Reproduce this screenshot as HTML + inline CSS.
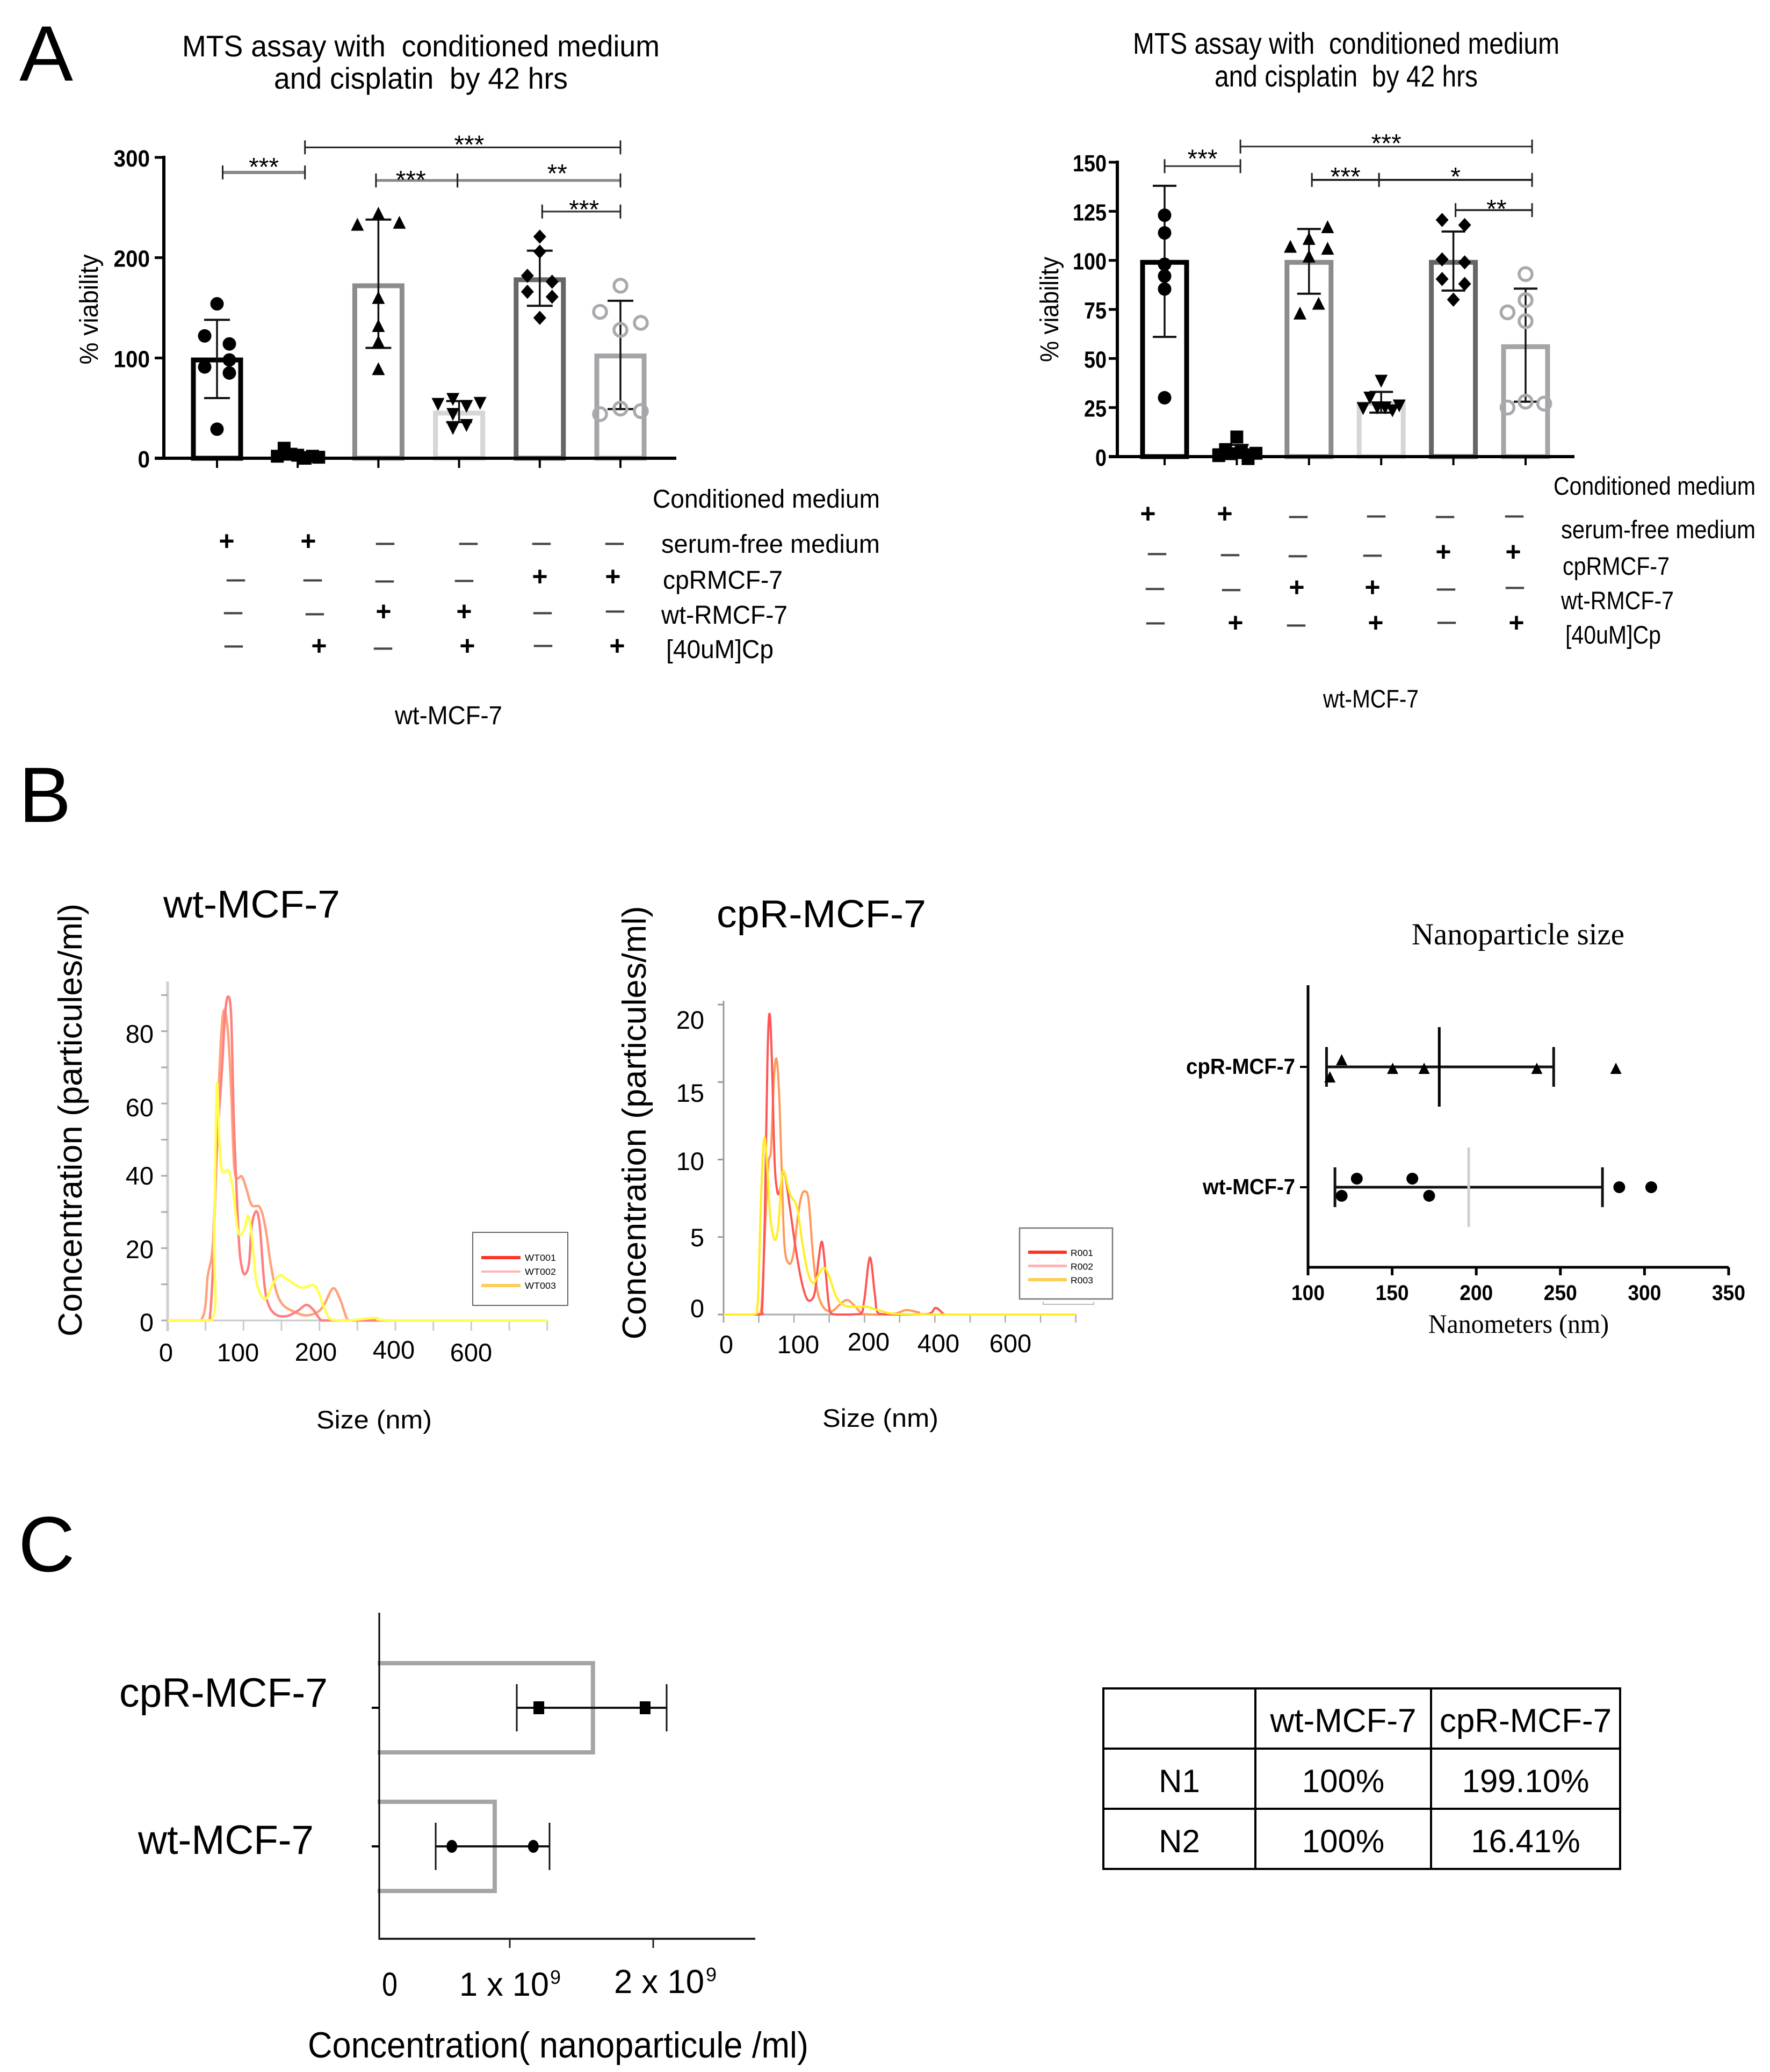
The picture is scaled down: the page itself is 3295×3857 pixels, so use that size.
<!DOCTYPE html>
<html lang="en">
<head>
<meta charset="utf-8">
<title>MCF-7 conditioned medium, nanoparticle size and concentration</title>
<style>
html,body{margin:0;padding:0;background:#fff;width:3295px;height:3857px;overflow:hidden}
#stage{position:absolute;left:0;top:0}
svg text{font-family:"Liberation Sans",sans-serif;fill:#000;white-space:pre}
.p{font-weight:bold;font-size:50px;text-anchor:middle}
.m{font-size:62px;text-anchor:middle;fill:#444!important}
.s{font-family:"Liberation Serif",serif!important}
table{position:absolute;left:2052px;top:3141px;width:966px;border-collapse:collapse;table-layout:fixed;font-family:"Liberation Sans",sans-serif;font-size:60px;color:#000}
td{border:4px solid #000;text-align:center;vertical-align:middle;padding:9px 0 0 0;height:99px;line-height:1}
tr.h td{font-size:62px}
</style>
</head>
<body>
<svg id="stage" width="3295" height="3857" viewBox="0 0 3295 3857" xmlns="http://www.w3.org/2000/svg">
  <text x="36" y="150" font-size="146" textLength="100" lengthAdjust="spacingAndGlyphs">A</text>
  <text x="35" y="1530" font-size="146">B</text>
  <text x="34" y="2925" font-size="146">C</text>

  <g id="a1">
    <text x="339" y="105" font-size="56" textLength="889" lengthAdjust="spacingAndGlyphs">MTS assay with  conditioned medium</text>
    <text x="510" y="165" font-size="56" textLength="547" lengthAdjust="spacingAndGlyphs">and cisplatin  by 42 hrs</text>
    <text transform="translate(182 576) rotate(-90)" text-anchor="middle" font-size="48" textLength="205" lengthAdjust="spacingAndGlyphs">% viability</text>
    <text x="1215" y="945" font-size="48" textLength="423" lengthAdjust="spacingAndGlyphs">Conditioned medium</text>
    <text x="1231" y="1029" font-size="48" textLength="407" lengthAdjust="spacingAndGlyphs">serum-free medium</text>
    <text x="1234" y="1096" font-size="48" textLength="223" lengthAdjust="spacingAndGlyphs">cpRMCF-7</text>
    <text x="1231" y="1161" font-size="48" textLength="235" lengthAdjust="spacingAndGlyphs">wt-RMCF-7</text>
    <text x="1240" y="1225" font-size="48" textLength="200" lengthAdjust="spacingAndGlyphs">[40uM]Cp</text>
    <text x="735" y="1348" font-size="48" textLength="200" lengthAdjust="spacingAndGlyphs">wt-MCF-7</text>
    <g>
      <text class="p" x="422" y="1024">+</text>
      <text class="p" x="574" y="1024">+</text>
      <text class="m" x="717" y="1028">–</text>
      <text class="m" x="872" y="1028">–</text>
      <text class="m" x="1008" y="1028">–</text>
      <text class="m" x="1144" y="1028">–</text>
      <text class="m" x="439" y="1096">–</text>
      <text class="m" x="582" y="1096">–</text>
      <text class="m" x="716" y="1098">–</text>
      <text class="m" x="864" y="1097">–</text>
      <text class="p" x="1005" y="1090">+</text>
      <text class="p" x="1141" y="1090">+</text>
      <text class="m" x="434" y="1157">–</text>
      <text class="m" x="586" y="1159">–</text>
      <text class="p" x="714" y="1155">+</text>
      <text class="p" x="864" y="1155">+</text>
      <text class="m" x="1010" y="1157">–</text>
      <text class="m" x="1145" y="1154">–</text>
      <text class="m" x="435" y="1219">–</text>
      <text class="p" x="594" y="1219">+</text>
      <text class="m" x="713" y="1223">–</text>
      <text class="p" x="870" y="1219">+</text>
      <text class="m" x="1011" y="1218">–</text>
      <text class="p" x="1149" y="1219">+</text>
    </g>
  </g>

  <g id="a2">
    <text x="2109" y="100" font-size="56" textLength="794" lengthAdjust="spacingAndGlyphs">MTS assay with  conditioned medium</text>
    <text x="2261" y="161" font-size="56" textLength="490" lengthAdjust="spacingAndGlyphs">and cisplatin  by 42 hrs</text>
    <text transform="translate(1970 576) rotate(-90)" text-anchor="middle" font-size="48" textLength="196" lengthAdjust="spacingAndGlyphs">% viability</text>
    <text x="2892" y="921" font-size="47" textLength="376" lengthAdjust="spacingAndGlyphs">Conditioned medium</text>
    <text x="2906" y="1002" font-size="47" textLength="362" lengthAdjust="spacingAndGlyphs">serum-free medium</text>
    <text x="2909" y="1070" font-size="47" textLength="199" lengthAdjust="spacingAndGlyphs">cpRMCF-7</text>
    <text x="2906" y="1134" font-size="47" textLength="210" lengthAdjust="spacingAndGlyphs">wt-RMCF-7</text>
    <text x="2914" y="1198" font-size="47" textLength="178" lengthAdjust="spacingAndGlyphs">[40uM]Cp</text>
    <text x="2463" y="1317" font-size="47" textLength="178" lengthAdjust="spacingAndGlyphs">wt-MCF-7</text>
    <g>
      <text class="p" x="2137" y="973">+</text>
      <text class="p" x="2280" y="973">+</text>
      <text class="m" x="2417" y="978">–</text>
      <text class="m" x="2562" y="977">–</text>
      <text class="m" x="2690" y="978">–</text>
      <text class="m" x="2819" y="977">–</text>
      <text class="m" x="2154" y="1047">–</text>
      <text class="m" x="2290" y="1049">–</text>
      <text class="m" x="2416" y="1051">–</text>
      <text class="m" x="2555" y="1050">–</text>
      <text class="p" x="2687" y="1044">+</text>
      <text class="p" x="2817" y="1044">+</text>
      <text class="m" x="2150" y="1112">–</text>
      <text class="m" x="2292" y="1114">–</text>
      <text class="p" x="2414" y="1110">+</text>
      <text class="p" x="2555" y="1110">+</text>
      <text class="m" x="2692" y="1113">–</text>
      <text class="m" x="2820" y="1110">–</text>
      <text class="m" x="2151" y="1176">–</text>
      <text class="p" x="2300" y="1176">+</text>
      <text class="m" x="2413" y="1180">–</text>
      <text class="p" x="2561" y="1176">+</text>
      <text class="m" x="2693" y="1175">–</text>
      <text class="p" x="2823" y="1176">+</text>
    </g>
  </g>

  <g id="b1">
    <text x="304" y="1708" font-size="72" textLength="329" lengthAdjust="spacingAndGlyphs">wt-MCF-7</text>
    <text transform="translate(152 2085) rotate(-90)" text-anchor="middle" font-size="62" textLength="806" lengthAdjust="spacingAndGlyphs">Concentration (particules/ml)</text>
    <g font-size="47" text-anchor="end">
      <text x="286" y="1941">80</text>
      <text x="286" y="2078">60</text>
      <text x="286" y="2205">40</text>
      <text x="286" y="2342">20</text>
      <text x="286" y="2478">0</text>
    </g>
    <g font-size="47" text-anchor="middle">
      <text x="309" y="2534">0</text>
      <text x="443" y="2534">100</text>
      <text x="588" y="2533">200</text>
      <text x="733" y="2529">400</text>
      <text x="877" y="2534">600</text>
    </g>
    <text x="589" y="2659" font-size="47" textLength="215" lengthAdjust="spacingAndGlyphs">Size (nm)</text>
  </g>

  <g id="b2">
    <text x="1334" y="1726" font-size="72" textLength="390" lengthAdjust="spacingAndGlyphs">cpR-MCF-7</text>
    <text transform="translate(1202 2090) rotate(-90)" text-anchor="middle" font-size="62" textLength="807" lengthAdjust="spacingAndGlyphs">Concentration (particules/ml)</text>
    <g font-size="47" text-anchor="end">
      <text x="1311" y="1915">20</text>
      <text x="1311" y="2051">15</text>
      <text x="1311" y="2178">10</text>
      <text x="1311" y="2320">5</text>
      <text x="1311" y="2452">0</text>
    </g>
    <g font-size="47" text-anchor="middle">
      <text x="1352" y="2519">0</text>
      <text x="1486" y="2519">100</text>
      <text x="1617" y="2514">200</text>
      <text x="1747" y="2517">400</text>
      <text x="1881" y="2517">600</text>
    </g>
    <text x="1531" y="2656" font-size="47" textLength="216" lengthAdjust="spacingAndGlyphs">Size (nm)</text>
  </g>

  <g id="nano">
    <text class="s" x="2628" y="1758" font-size="57" textLength="396" lengthAdjust="spacingAndGlyphs">Nanoparticle size</text>
    <text class="s" x="2659" y="2481" font-size="50" textLength="336" lengthAdjust="spacingAndGlyphs">Nanometers (nm)</text>
  </g>

  <g id="conc">
    <text x="711" y="3715" font-size="62" textLength="29" lengthAdjust="spacingAndGlyphs">0</text>
    <text x="855" y="3715" font-size="62" textLength="167" lengthAdjust="spacingAndGlyphs">1 x 10</text>
    <text x="1024" y="3693" font-size="36">9</text>
    <text x="1143" y="3710" font-size="62" textLength="168" lengthAdjust="spacingAndGlyphs">2 x 10</text>
    <text x="1314" y="3688" font-size="36">9</text>
    <text x="573" y="3830" font-size="68" textLength="932" lengthAdjust="spacingAndGlyphs">Concentration( nanoparticule /ml)</text>
  </g>
</svg>

<table>
  <colgroup><col style="width:283px"><col style="width:327px"><col style="width:352px"></colgroup>
  <tr class="h">
    <td></td>
    <td>wt-MCF-7</td>
    <td>cpR-MCF-7</td>
  </tr>
  <tr>
    <td>N1</td>
    <td>100%</td>
    <td>199.10%</td>
  </tr>
  <tr>
    <td>N2</td>
    <td>100%</td>
    <td>16.41%</td>
  </tr>
</table>

<script>
/* ---------- Panel A left: values ---------- */
const a1Ticks = [0, 100, 200, 300];
const a1Means = [98, 2, 172, 45, 178, 102];
const a1ErrLow = [60, 0, 110, 36, 152, 49];
const a1ErrHigh = [138, 6, 238, 57, 207, 157];
const a1Points = [
  [154, 122, 114, 98, 91, 85, 29],
  [2, 10, 4, 3, 0, 2, 1],
  [244, 233, 235, 160, 132, 116, 89],
  [54, 59, 52, 55, 44, 33, 30],
  [221, 206, 182, 176, 166, 161, 140],
  [172, 146, 135, 128, 49.5, 47, 44]
];
const a1Lanes = [
  [0, -1, 1, 1, -1, 1, 0],
  [-1.65, -1.1, -0.55, 0, 0.6, 1.2, 1.7],
  [0, -1.7, 1.7, 0, 0, 0, 0],
  [-1.7, -0.5, 0.6, 1.7, -0.5, 0.6, -0.5],
  [0, 0, -1, 1, -1, 1, 0],
  [0, -1.65, 1.65, 0, 0, 1.65, -1.65]
];
const a1BracketStart = [0.07, 1.09, 1.97, 2.98, 4.03];
const a1BracketEnd = [1.09, 5, 2.98, 5, 5];
const a1BracketLevel = [285, 310, 277, 277, 246];
const a1BracketStars = ["***", "***", "***", "**", "***"];

/* ---------- Panel A right: values ---------- */
const a2Ticks = [0, 25, 50, 75, 100, 125, 150];
const a2Means = [99, 3, 99, 27, 99, 56];
const a2ErrLow = [61, 0, 83, 22.4, 84.6, 28];
const a2ErrHigh = [138, 6, 116, 33, 114.7, 85.6];
const a2Points = [
  [123, 114, 98, 92, 85.4, 30],
  [10, 3.6, 2.5, 0.5, 1.7, -1, 1.5],
  [117, 111, 107, 106, 102, 78, 73],
  [38.6, 30, 24.6, 26, 25, 25, 23.5],
  [120.6, 118, 100.5, 99, 90.5, 88, 80],
  [93, 79.7, 73.5, 69, 28, 27, 25]
];
const a2Lanes = [
  [0, 0, 0, 0, 0, 0],
  [0, -1, 0.4, -1.6, 1.7, 1, -0.6],
  [1.65, 0, -1.65, 1.65, 0, 0.85, -0.8],
  [0, -1, -1.6, 1.6, 0.35, -0.35, 1],
  [-1, 1, -1, 1, -1, 1, 0],
  [0, 0, -1.6, 0, 0, 1.65, -1.6]
];
const a2BracketStart = [0, 1.05, 2.04, 2.97, 4.03];
const a2BracketEnd = [1.05, 5.09, 2.97, 5.09, 5.09];
const a2BracketLevel = [148, 158, 141, 141, 125.6];
const a2BracketStars = ["***", "***", "***", "*", "**"];

const barCategories = ["conditioned", "conditioned-cp", "wt-r", "wt-r-cp", "cp-r", "cp-r-cp"];
const pointKinds = ["circle", "square", "triangle", "triangle-down", "diamond", "ring"];
const barColors = ["#000000", "#000000", "#8c8c8c", "#d6d6d6", "#666666", "#a5a5a9"];

/* ---------- Panel B left: size (nm) and concentration ---------- */
const b1RedSize = [0, 50.7, 55.4, 60, 64.8, 71.9, 75.5, 79.5, 83.7, 87, 90.8, 94.3, 97.9, 102, 107.3, 110.8, 116.7, 121.4, 127.3, 133, 142.7, 156.8, 171, 182.7, 192, 201.6, 211, 298];
const b1RedConc = [0, 0, 0.2, 15.9, 46.6, 70.5, 84.2, 89.6, 84.2, 56.9, 36.4, 20.7, 14.5, 12.8, 15.9, 26.1, 30.2, 26.1, 10.4, 4.3, 1.6, 1.2, 2.6, 4.3, 2.9, 0.2, 0, 0];
const b1OrangeSize = [0, 43.6, 53, 60, 67.2, 73, 79, 83.7, 88.4, 97.9, 103.8, 110.8, 121.4, 128.5, 135.6, 142.7, 152, 168.6, 182.7, 197, 206, 218, 227.5, 237, 246, 298];
const b1OrangeConc = [0, 0, 12.5, 22.7, 63.7, 84.8, 80.8, 63.7, 41.2, 39.8, 36.4, 31.9, 31.3, 26.1, 15.9, 8.4, 4.3, 2.25, 1.4, 2.25, 4.3, 8.9, 5.7, 0.2, 0, 0];
const b1YellowSize = [0, 57.8, 61.3, 64.8, 68.4, 71.9, 80, 86, 92, 96.7, 101.4, 106, 110.8, 116.7, 125, 130.9, 138, 147.4, 156.8, 175.7, 192, 199, 206, 215.8, 239, 274.7, 298, 500];
const b1YellowConc = [0, 0, 22.7, 65, 48.7, 41.2, 41.5, 36.4, 25.5, 23.75, 25.5, 28.9, 23.4, 11.1, 6.35, 6.35, 9.8, 12.5, 11.5, 9.1, 9.8, 7.7, 3.6, 0.2, 0, 0.7, 0, 0];
const b1YMinorTicks = [0, 10, 20, 30, 40, 50, 60, 70, 80, 90];
const b1XTicks = [0, 50, 100, 150, 200, 250, 300, 350, 400, 450, 500];
const b1Legend = ["WT001", "WT002", "WT003"];

/* ---------- Panel B middle: size (nm) and concentration ---------- */
const b2RedSize = [0, 50.8, 54.7, 58.5, 62.3, 65.3, 68.6, 72.4, 76.3, 80, 85.9, 94, 101.7, 109.3, 116.9, 123.3, 129.6, 134.7, 139.8, 144.9, 151.3, 162.7, 193.2, 199.5, 207.7, 214.8, 219.9, 244, 289.8, 301.2, 312.7, 320.3, 500];
const b2RedConc = [0, 0, 0.29, 6.35, 16.45, 19.41, 16.45, 9.96, 7.94, 8, 9.24, 6.93, 4.47, 2.45, 1.15, 0.9, 1.44, 3.46, 4.69, 2.74, 0.14, 0, 0.03, 0.87, 3.68, 1.3, 0.07, 0, 0.03, 0.43, 0.03, 0, 0];
const b2OrangeSize = [0, 45.8, 53.4, 59.7, 63.6, 67.4, 71.2, 75, 78.8, 82.6, 86.4, 92.8, 99.1, 105.5, 110.6, 115.7, 120.7, 127.1, 133.5, 142.4, 153.8, 165.2, 175.4, 185.6, 198.3, 218.6, 244, 259.3, 277, 294.9, 500];
const b2OrangeConc = [0, 0, 0.29, 6.35, 9.74, 10.68, 15, 16.52, 14.29, 9.24, 4.47, 3.29, 3.9, 6.35, 7.65, 7.94, 7.36, 3.75, 1.44, 0.43, 0.22, 0.65, 0.94, 0.58, 0.03, 0, 0.07, 0.29, 0.14, 0, 0];
const b2YellowSize = [0, 41.9, 48.3, 53.4, 57.7, 62.3, 66.1, 72.4, 77.5, 81.9, 85.9, 94, 104.2, 111.8, 119.5, 127.1, 133.5, 142.4, 150, 160, 171.6, 188.1, 203.4, 221.2, 249.1, 345.7, 500];
const b2YellowConc = [0, 0, 0.58, 7.79, 11.4, 9.24, 6.35, 4.83, 5.63, 8.51, 9.24, 7.79, 6.93, 4.62, 2.74, 2.02, 2.45, 3.03, 2.45, 1.15, 0.58, 0.5, 0.5, 0.26, 0.03, 0, 0];
const b2YTicks = [0, 5, 10, 15, 20];
const b2XTicks = [0, 50, 100, 150, 200, 250, 300, 350, 400, 450, 500];
const b2Legend = ["R001", "R002", "R003"];

/* ---------- Nanoparticle size ---------- */
const nanoTicks = [100, 150, 200, 250, 300, 350];
const nanoCategories = ["cpR-MCF-7", "wt-MCF-7"];
const nanoPoints = [
  [113, 120, 150.3, 169, 236, 283],
  [120, 129, 162, 172, 285, 304]
];
const nanoLanes = [
  [1.2, -0.8, 0.2, 0.2, 0.2, 0.2],
  [1, -1, -1, 1, 0, 0]
];
const nanoMedian = [178, 195.5];
const nanoLow = [111, 116];
const nanoHigh = [246, 275];

/* ---------- Concentration (x 10^9 particles/ml) ---------- */
const concTicks = [0, 0.953, 2];
const concCategories = ["cpR-MCF-7", "wt-MCF-7"];
const concMeans = [1.56, 0.843];
const concLow = [1.004, 0.412];
const concHigh = [2.098, 1.243];
const concPoints = [
  [1.165, 1.941],
  [0.53, 1.125]
];

/* ---------- Helpers ---------- */
const SVGNS = "http://www.w3.org/2000/svg";
function add(tag, parent, name, attrs) {
  const el = document.createElementNS(SVGNS, tag);
  
  
  for (const key in attrs) el.setAttribute(key, attrs[key]);
  parent.appendChild(el);
  return el;
}
function line(parent, name, x1, y1, x2, y2, stroke, width) {
  return add('line', parent, name, {x1: x1, y1: y1, x2: x2, y2: y2, stroke: stroke, 'stroke-width': width});
}
function label(parent, name, str, x, y, size, attrs) {
  const el = add('text', parent, name, Object.assign({x: x, y: y, 'font-size': size}, attrs || {}));
  el.textContent = str;
  return el;
}
function marker(parent, kind, name, cx, cy, s) {
  if (kind === 'circle') return add('circle', parent, name, {cx: cx, cy: cy, r: s + 0.5});
  if (kind === 'ring') return add('circle', parent, name, {cx: cx, cy: cy, r: s, fill: 'none', stroke: '#a9a9ad', 'stroke-width': 5.5});
  if (kind === 'square') return add('rect', parent, name, {x: cx - s, y: cy - s, width: 2 * s, height: 2 * s});
  let pts;
  if (kind === 'triangle') pts = [[cx, cy - s * 1.05], [cx + s, cy + s * 0.95], [cx - s, cy + s * 0.95]];
  if (kind === 'triangle-down') pts = [[cx, cy + s * 1.05], [cx + s, cy - s * 0.95], [cx - s, cy - s * 0.95]];
  if (kind === 'diamond') pts = [[cx, cy - s * 1.1], [cx + s, cy], [cx, cy + s * 1.1], [cx - s, cy]];
  return add('polygon', parent, name, {points: pts.map(p => p.join(',')).join(' ')});
}
function smoothPath(xs, ys, baseY) {
  const p = xs.map((x, i) => [x, ys[i]]);
  let d = 'M' + p[0][0].toFixed(1) + ' ' + p[0][1].toFixed(1);
  for (let i = 0; i < p.length - 1; i++) {
    const a = p[Math.max(i - 1, 0)], b = p[i], c = p[i + 1], e = p[Math.min(i + 2, p.length - 1)];
    const k = 1 / 6;
    const y1 = Math.min(b[1] + (c[1] - a[1]) * k, baseY);
    const y2 = Math.min(c[1] - (e[1] - b[1]) * k, baseY);
    d += ' C' + (b[0] + (c[0] - a[0]) * k).toFixed(1) + ' ' + y1.toFixed(1) + ' ' +
      (c[0] - (e[0] - b[0]) * k).toFixed(1) + ' ' + y2.toFixed(1) + ' ' +
      c[0].toFixed(1) + ' ' + c[1].toFixed(1);
  }
  return d;
}

/* ---------- Bar charts ---------- */
function barChart(host, prefix, o) {
  const bars = add('g', host, prefix + '-bars', {});
  o.means.forEach((v, i) => {
    const cx = o.x(i);
    add('rect', bars, prefix + '-bar-' + barCategories[i], {
      x: cx - o.barW / 2, y: o.y(v), width: o.barW, height: Math.max(o.y(0) - o.y(v), 0),
      fill: 'none', stroke: barColors[i], 'stroke-width': 9
    });
  });
  const errs = add('g', host, prefix + '-error-bars', {});
  o.means.forEach((v, i) => {
    const cx = o.x(i);
    line(errs, prefix + '-error-stem', cx, o.y(o.low[i]), cx, o.y(o.high[i]), '#111', 3.5);
    line(errs, prefix + '-error-cap-high', cx - o.cap, o.y(o.high[i]), cx + o.cap, o.y(o.high[i]), '#111', 4);
    line(errs, prefix + '-error-cap-low', cx - o.cap, o.y(o.low[i]), cx + o.cap, o.y(o.low[i]), '#111', 4);
  });
  const pts = add('g', host, prefix + '-points', {});
  o.points.forEach((group, i) => {
    group.forEach((v, j) => {
      marker(pts, pointKinds[i], prefix + '-point-' + barCategories[i], o.x(i) + o.lanes[i][j] * o.laneW, o.y(v), 12);
    });
  });
  const axes = add('g', host, prefix + '-axes', {});
  line(axes, prefix + '-y-axis', o.x0, o.y(o.ticks[o.ticks.length - 1]) - 3, o.x0, o.y(0) + 3, '#000', 6);
  line(axes, prefix + '-x-axis', o.tickLeft, o.y(0), o.xEnd, o.y(0), '#000', 6);
  o.ticks.forEach(t => {
    line(axes, prefix + '-y-tick', o.tickLeft, o.y(t), o.x0, o.y(t), '#000', 5);
    label(axes, prefix + '-y-tick-label', String(t), o.labelRight, o.y(t) + 17, 44, {
      'font-weight': 'bold', 'text-anchor': 'end', textLength: String(t).length * o.digitW, lengthAdjust: 'spacingAndGlyphs'
    });
  });
  o.means.forEach((v, i) => {
    line(axes, prefix + '-x-tick', o.x(i), o.y(0), o.x(i), o.y(0) + o.tickDown, '#000', 4);
  });
  const br = add('g', host, prefix + '-significance-brackets', {});
  o.bStart.forEach((s, i) => {
    const x1 = o.x(s), x2 = o.x(o.bEnd[i]), y = o.y(o.bLevel[i]);
    line(br, prefix + '-bracket-bar', x1, y, x2, y, o.bColor[i], o.bWidth[i]);
    line(br, prefix + '-bracket-end', x1, y - 13, x1, y + 13, '#222', 3);
    line(br, prefix + '-bracket-end', x2, y - 13, x2, y + 13, '#222', 3);
    label(br, prefix + '-significance-stars', o.bStars[i], (x1 + x2) / 2 + o.bShift[i], y + o.bLift[i], 48, {
      'text-anchor': 'middle'
    });
  });
}
const a1Y = v => 853 - v * (560 / 300);
const a1X = i => 404 + 150.2 * i;
barChart(document.getElementById('a1'), 'left', {
  x: a1X, y: a1Y, x0: 305, xEnd: 1259, tickLeft: 288, labelRight: 279, tickDown: 18, barW: 88, cap: 24, laneW: 23, digitW: 22.5,
  ticks: a1Ticks, means: a1Means, low: a1ErrLow, high: a1ErrHigh, points: a1Points, lanes: a1Lanes,
  bStart: a1BracketStart, bEnd: a1BracketEnd, bLevel: a1BracketLevel, bStars: a1BracketStars,
  bColor: ['#888', '#222', '#888', '#888', '#444'], bWidth: [6, 3, 5, 5, 3.5],
  bShift: [0, 12, -11, 34, 5], bLift: [6, 11, 15, 3, 12]
});
const a2Y = v => 850 - v * (548 / 150);
const a2X = i => 2168 + 134.4 * i;
barChart(document.getElementById('a2'), 'right', {
  x: a2X, y: a2Y, x0: 2080, xEnd: 2931, tickLeft: 2064, labelRight: 2060, tickDown: 16, barW: 82, cap: 22, laneW: 21, digitW: 21,
  ticks: a2Ticks, means: a2Means, low: a2ErrLow, high: a2ErrHigh, points: a2Points, lanes: a2Lanes,
  bStart: a2BracketStart, bEnd: a2BracketEnd, bLevel: a2BracketLevel, bStars: a2BracketStars,
  bColor: ['#333', '#333', '#111', '#111', '#222'], bWidth: [3, 3, 3.5, 3.5, 3.5],
  bShift: [0, 0, 0, 0, 5], bLift: [2, 10, 10, 10, 14]
});

/* ---------- Size distributions ---------- */
const b1Host = document.getElementById('b1');
const b1X = s => 312 + s * 1.4133;
const b1Y = v => 2458 - v * 6.73;
line(b1Host, 'wt-distribution-y-axis', 312, 1827, 312, 2478, '#cfcfcf', 5);
line(b1Host, 'wt-distribution-x-axis', 300, b1Y(0), b1X(500), b1Y(0), '#c8c8c8', 3);
b1YMinorTicks.forEach(t => {
  line(b1Host, 'wt-distribution-y-tick', 300, b1Y(t), 312, b1Y(t), '#aaa', 3);
});
b1XTicks.forEach(t => {
  line(b1Host, 'wt-distribution-x-tick', b1X(t), b1Y(0), b1X(t), 2477, '#ccc', 3);
});
add('path', b1Host, 'wt-curve-wt002', {d: smoothPath(b1OrangeSize.map(b1X), b1OrangeConc.map(b1Y), b1Y(0)), fill: 'none', stroke: '#ffa27a', 'stroke-width': 4.5});
add('path', b1Host, 'wt-curve-wt001', {d: smoothPath(b1RedSize.map(b1X), b1RedConc.map(b1Y), b1Y(0)), fill: 'none', stroke: '#ff8080', 'stroke-width': 4.5});
add('path', b1Host, 'wt-curve-wt003', {d: smoothPath(b1YellowSize.map(b1X), b1YellowConc.map(b1Y), b1Y(0)), fill: 'none', stroke: '#ffff50', 'stroke-width': 4.5});
const b1LegendBox = add('g', b1Host, 'wt-distribution-legend', {});
add('rect', b1LegendBox, 'wt-legend-box', {x: 880, y: 2294, width: 177, height: 136, fill: '#fff', stroke: '#666', 'stroke-width': 2});
b1Legend.forEach((name, i) => {
  line(b1LegendBox, 'wt-legend-swatch', 896, 2341 + i * 26, 969, 2341 + i * 26, ['#ff3322', '#ffb3b3', '#ffcc55'][i], [6, 4, 6][i]);
  label(b1LegendBox, 'wt-legend-entry', name, 977, 2347 + i * 26, 17, {textLength: 58, lengthAdjust: 'spacingAndGlyphs', fill: '#333'});
});

const b2Host = document.getElementById('b2');
const b2X = s => 1347 + s * 1.3112;
const b2Y = v => 2447 - v * 28.85;
line(b2Host, 'cpr-distribution-y-axis', 1347, 1863, 1347, 2462, '#999', 3);
line(b2Host, 'cpr-distribution-x-axis', 1336, b2Y(0), b2X(500), b2Y(0), '#aaa', 3);
b2YTicks.forEach(t => {
  line(b2Host, 'cpr-distribution-y-tick', 1336, b2Y(t), 1347, b2Y(t), '#999', 3);
});
b2XTicks.forEach(t => {
  line(b2Host, 'cpr-distribution-x-tick', b2X(t), b2Y(0), b2X(t), 2462, '#aaa', 2.5);
});
add('path', b2Host, 'cpr-curve-r002', {d: smoothPath(b2OrangeSize.map(b2X), b2OrangeConc.map(b2Y), b2Y(0)), fill: 'none', stroke: '#ff9a5c', 'stroke-width': 4});
add('path', b2Host, 'cpr-curve-r001', {d: smoothPath(b2RedSize.map(b2X), b2RedConc.map(b2Y), b2Y(0)), fill: 'none', stroke: '#ff5555', 'stroke-width': 4});
add('path', b2Host, 'cpr-curve-r003', {d: smoothPath(b2YellowSize.map(b2X), b2YellowConc.map(b2Y), b2Y(0)), fill: 'none', stroke: '#ffee22', 'stroke-width': 4});
const b2LegendBox = add('g', b2Host, 'cpr-distribution-legend', {});
add('rect', b2LegendBox, 'cpr-legend-box', {x: 1898, y: 2286, width: 173, height: 132, fill: '#fff', stroke: '#777', 'stroke-width': 2.5});
add('polyline', b2LegendBox, 'cpr-legend-bracket', {points: '1942,2423 1942,2428 2036,2428 2036,2423', fill: 'none', stroke: '#bbb', 'stroke-width': 2});
b2Legend.forEach((name, i) => {
  line(b2LegendBox, 'cpr-legend-swatch', 1914, 2331 + i * 25.5, 1986, 2331 + i * 25.5, ['#ff3322', '#ffb3b3', '#ffcc55'][i], [6, 5, 6][i]);
  label(b2LegendBox, 'cpr-legend-entry', name, 1993, 2338 + i * 25.5, 17, {textLength: 42, lengthAdjust: 'spacingAndGlyphs', fill: '#555'});
});

/* ---------- Nanoparticle size ---------- */
const nanoHost = document.getElementById('nano');
const nanoX = v => 2435 + (v - 100) * 3.132;
const nanoY = i => 1986 + 224 * i;
const nanoMedianColors = ['#000', '#cfcfcf'];
const nanoKinds = ['triangle', 'circle'];
nanoCategories.forEach((name, i) => {
  const row = add('g', nanoHost, 'nano-row-' + name, {});
  const y = nanoY(i);
  line(row, 'nano-range-line', nanoX(nanoLow[i]), y, nanoX(nanoHigh[i]), y, '#111', 5);
  line(row, 'nano-range-cap-low', nanoX(nanoLow[i]), y - 37, nanoX(nanoLow[i]), y + 37, '#111', 5);
  line(row, 'nano-range-cap-high', nanoX(nanoHigh[i]), y - 37, nanoX(nanoHigh[i]), y + 37, '#111', 5);
  line(row, 'nano-median', nanoX(nanoMedian[i]), y - 74, nanoX(nanoMedian[i]), y + 74, nanoMedianColors[i], 5);
  nanoPoints[i].forEach((v, j) => {
    marker(row, nanoKinds[i], 'nano-point', nanoX(v), y + nanoLanes[i][j] * 16, 10.5);
  });
  line(row, 'nano-y-tick', 2420, y, 2435, y, '#000', 4);
  label(row, 'nano-category-label', name, 2411, y + 13, 41, {
    'font-weight': 'bold', 'text-anchor': 'end', textLength: i === 0 ? 203 : 172, lengthAdjust: 'spacingAndGlyphs'
  });
});
line(nanoHost, 'nano-y-axis', 2435, 1834, 2435, 2361, '#000', 5);
line(nanoHost, 'nano-x-axis', 2433, 2359, 3218, 2359, '#000', 5);
nanoTicks.forEach(t => {
  line(nanoHost, 'nano-x-tick', nanoX(t), 2359, nanoX(t), 2374, '#000', 5);
  label(nanoHost, 'nano-x-tick-label', String(t), nanoX(t), 2420, 40, {
    'font-weight': 'bold', 'text-anchor': 'middle', textLength: 62, lengthAdjust: 'spacingAndGlyphs'
  });
});

/* ---------- Concentration ---------- */
const concHost = document.getElementById('conc');
const concX = v => 706 + 255 * v;
const concY = i => 3179 + 258 * i;
concCategories.forEach((name, i) => {
  const row = add('g', concHost, 'conc-row-' + name, {});
  const y = concY(i);
  add('path', row, 'conc-bar', {d: 'M703 ' + (y - 83) + ' H' + concX(concMeans[i]) + ' V' + (y + 83) + ' H703', fill: 'none', stroke: '#a5a5a8', 'stroke-width': 8});
  line(row, 'conc-range-line', concX(concLow[i]), y, concX(concHigh[i]), y, '#111', 4);
  line(row, 'conc-range-cap-low', concX(concLow[i]), y - 44, concX(concLow[i]), y + 44, '#111', 3);
  line(row, 'conc-range-cap-high', concX(concHigh[i]), y - 44, concX(concHigh[i]), y + 44, '#111', 3);
  concPoints[i].forEach(v => {
    if (i === 0) add('rect', row, 'conc-point', {x: concX(v) - 10, y: y - 12, width: 20, height: 24});
    else add('ellipse', row, 'conc-point', {cx: concX(v), cy: y, rx: 10, ry: 12});
  });
  line(row, 'conc-y-tick', 692, y, 706, y, '#000', 4);
  label(row, 'conc-category-label', name, i === 0 ? 222 : 257, y + (i === 0 ? -2 : 14), 76, {textLength: i === 0 ? 388 : 327, lengthAdjust: 'spacingAndGlyphs'});
});
line(concHost, 'conc-y-axis', 706, 3002, 706, 3611, '#000', 3);
line(concHost, 'conc-x-axis', 705, 3609, 1406, 3609, '#222', 4);
concTicks.forEach(t => {
  if (t > 0) line(concHost, 'conc-x-tick', concX(t), 3609, concX(t), 3626, '#222', 3);
});
</script>
</body>
</html>
